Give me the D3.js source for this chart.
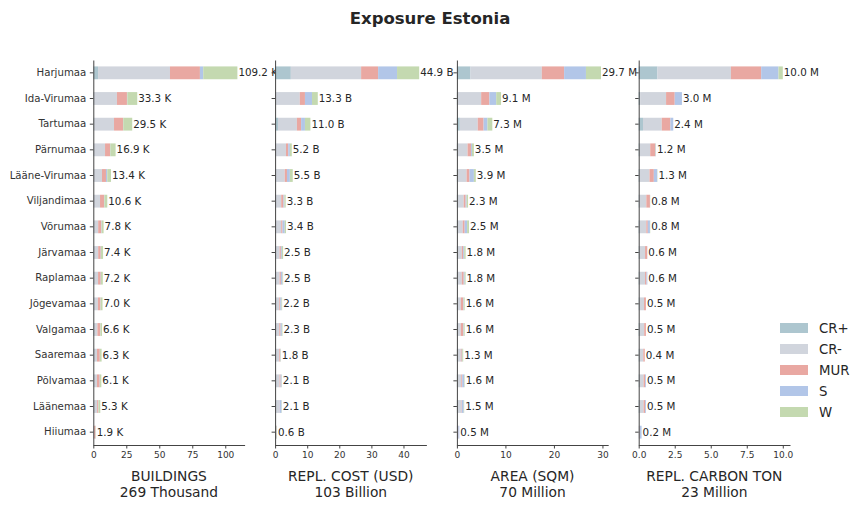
<!doctype html>
<html lang="en">
<head>
<meta charset="UTF-8">
<title>Exposure Estonia</title>
<style>
  body { margin: 0; background: #fff; }
  svg text { font-family: "DejaVu Sans", sans-serif; fill: #262626; }
  .axis path, .axis line { stroke: #444; stroke-width: 1; }
  .axis text { fill: #333; }
</style>
</head>
<body>
<svg id="chart" width="866" height="510"></svg>
<script src="https://cdn.jsdelivr.net/npm/d3@7"></script>
<script>
const regions = ["Harjumaa", "Ida-Virumaa", "Tartumaa", "Pärnumaa", "Lääne-Virumaa", "Viljandimaa",
  "Võrumaa", "Järvamaa", "Raplamaa", "Jõgevamaa", "Valgamaa", "Saaremaa", "Põlvamaa", "Läänemaa", "Hiiumaa"];
const series = ["CR+", "CR-", "MUR", "S", "W"];
const colors = ["#adc6cf", "#d1d5dd", "#e9a8a2", "#b2c6e8", "#c4d9b0"];

// rows follow regions, columns follow series
const buildings = [
  [3.6, 54.5, 22.7, 2.5, 25.9],
  [0.2, 17.7, 7.6, 0.3, 7.5],
  [0.3, 15.4, 6.8, 0.2, 6.8],
  [0.2, 8.7, 3.8, 0.2, 4.0],
  [0.1, 6.5, 3.0, 1.0, 2.8],
  [0.1, 5.0, 3.0, 0.3, 2.2],
  [0.1, 3.6, 2.3, 0.3, 1.5],
  [0.1, 3.6, 1.9, 0.2, 1.6],
  [0.1, 3.5, 2.0, 0.2, 1.4],
  [0.1, 3.4, 1.9, 0.2, 1.4],
  [0.1, 3.0, 2.1, 0.2, 1.2],
  [0.1, 2.7, 2.1, 0.1, 1.3],
  [0.1, 2.7, 2.0, 0.2, 1.1],
  [0.1, 2.8, 0.8, 0.2, 1.4],
  [0.0, 0.6, 1.0, 0.1, 0.2]
];
const replCost = [
  [4.9, 21.9, 5.3, 5.9, 6.9],
  [0.1, 7.6, 1.6, 2.2, 1.8],
  [0.9, 5.9, 1.3, 1.2, 1.7],
  [0.1, 3.3, 0.7, 0.5, 0.6],
  [0.1, 2.9, 0.7, 0.9, 0.9],
  [0.1, 1.8, 0.7, 0.3, 0.4],
  [0.1, 1.8, 0.4, 0.7, 0.4],
  [0.1, 1.3, 0.4, 0.3, 0.4],
  [0.1, 1.3, 0.4, 0.5, 0.2],
  [0.1, 1.2, 0.3, 0.4, 0.2],
  [0.1, 1.2, 0.4, 0.4, 0.2],
  [0.1, 1.2, 0.3, 0.1, 0.1],
  [0.1, 1.3, 0.3, 0.3, 0.1],
  [0.1, 1.2, 0.1, 0.6, 0.1],
  [0.0, 0.3, 0.1, 0.1, 0.1]
];
const area = [
  [2.8, 14.7, 4.6, 4.5, 3.1],
  [0.1, 4.9, 1.7, 1.4, 1.0],
  [0.6, 3.7, 1.2, 0.8, 1.0],
  [0.1, 2.1, 0.7, 0.2, 0.4],
  [0.1, 1.9, 0.6, 0.9, 0.4],
  [0.1, 1.3, 0.4, 0.2, 0.3],
  [0.1, 1.1, 0.4, 0.5, 0.4],
  [0.1, 0.9, 0.3, 0.2, 0.3],
  [0.1, 0.9, 0.4, 0.2, 0.2],
  [0.1, 0.7, 0.5, 0.1, 0.2],
  [0.1, 0.7, 0.5, 0.1, 0.2],
  [0.1, 0.7, 0.2, 0.1, 0.2],
  [0.1, 0.8, 0.2, 0.4, 0.1],
  [0.1, 0.8, 0.1, 0.4, 0.1],
  [0.0, 0.2, 0.1, 0.2, 0.0]
];
const carbon = [
  [1.3, 5.1, 2.1, 1.2, 0.3],
  [0.1, 1.8, 0.6, 0.5, 0.0],
  [0.3, 1.3, 0.6, 0.2, 0.0],
  [0.05, 0.75, 0.35, 0.03, 0.02],
  [0.05, 0.7, 0.3, 0.23, 0.02],
  [0.03, 0.5, 0.25, 0.01, 0.01],
  [0.03, 0.5, 0.1, 0.15, 0.02],
  [0.02, 0.42, 0.15, 0.01, 0.0],
  [0.02, 0.42, 0.1, 0.06, 0.0],
  [0.02, 0.35, 0.13, 0.0, 0.0],
  [0.02, 0.36, 0.12, 0.0, 0.0],
  [0.02, 0.3, 0.1, 0.0, 0.0],
  [0.02, 0.32, 0.1, 0.06, 0.0],
  [0.02, 0.32, 0.1, 0.06, 0.0],
  [0.0, 0.05, 0.02, 0.13, 0.0]
];

const panelTitles = ["BUILDINGS", "REPL. COST (USD)", "AREA (SQM)", "REPL. CARBON TON"];
const unitNames = ["Thousand", "Billion", "Million", "Million"];
const unitSuffix = ["K", "B", "M", "M"];
const xTicks = [[0, 25, 50, 75, 100], [0, 10, 20, 30, 40], [0, 10, 20, 30], [0, 2.5, 5, 7.5, 10]];
const xTickFormat = ["d", "d", "d", ".1f"];

const panels = [buildings, replCost, area, carbon];

const svg = d3.select("#chart");
const plotTop = 60, plotBottom = 445, panelW = 151.3, panelStep = 181.8, left0 = 93.3;

svg.append("text")
  .attr("x", 430).attr("y", 24)
  .attr("text-anchor", "middle")
  .style("font-size", "16.5px").style("font-weight", "bold")
  .text("Exposure Estonia");

const y = d3.scaleBand().domain(regions).range([plotTop, plotBottom])
  .paddingInner(0.5).paddingOuter(0.25);

const stack = d3.stack().keys(d3.range(series.length));

panels.forEach((rows, p) => {
  const g = svg.append("g").attr("transform", `translate(${left0 + p * panelStep},0)`);
  const totals = rows.map(r => d3.sum(r));
  const x = d3.scaleLinear().domain([0, d3.max(totals) * 1.05]).range([0, panelW]);

  const layers = stack(rows);
  g.selectAll("g.layer").data(layers).join("g")
    .attr("class", "layer")
    .attr("fill", (d, i) => colors[i])
    .selectAll("rect").data(d => d).join("rect")
    .attr("x", d => x(d[0]))
    .attr("width", d => Math.max(0, x(d[1]) - x(d[0])))
    .attr("y", (d, i) => y(regions[i]))
    .attr("height", y.bandwidth());

  g.selectAll("text.val").data(totals).join("text")
    .attr("class", "val")
    .attr("x", d => x(d) + 1)
    .attr("y", (d, i) => y(regions[i]) + y.bandwidth() / 2)
    .attr("dy", "0.35em")
    .style("font-size", "10.3px")
    .text(d => d3.format(".1f")(d) + " " + unitSuffix[p]);

  const yAxis = d3.axisLeft(y).tickSize(3.5).tickSizeOuter(0).tickPadding(3.5);
  if (p > 0) yAxis.tickFormat("");
  g.append("g").attr("class", "axis")
    .call(yAxis)
    .call(a => a.selectAll("text").style("font-size", "10.2px"));

  g.append("g").attr("class", "axis")
    .attr("transform", `translate(0,${plotBottom})`)
    .call(d3.axisBottom(x).tickValues(xTicks[p]).tickFormat(d3.format(xTickFormat[p]))
      .tickSize(3.5).tickSizeOuter(0).tickPadding(3.5))
    .call(a => a.selectAll("text").style("font-size", "9px"));

  const grand = Math.round(d3.sum(totals));
  const t = g.append("text")
    .attr("x", panelW / 2).attr("y", 481)
    .attr("text-anchor", "middle")
    .style("font-size", "13.8px");
  t.append("tspan").attr("x", panelW / 2).text(panelTitles[p]);
  t.append("tspan").attr("x", panelW / 2).attr("dy", 15.5).text(grand + " " + unitNames[p]);
});

// legend
const legend = svg.append("g").attr("transform", "translate(780,328)");
series.forEach((s, i) => {
  const row = legend.append("g").attr("transform", `translate(0,${i * 21})`);
  row.append("rect").attr("x", 0).attr("y", -5).attr("width", 28).attr("height", 10).attr("fill", colors[i]);
  row.append("text").attr("x", 39).attr("y", 0).attr("dy", "0.35em")
    .style("font-size", "13.3px").text(s);
});
</script>
</body>
</html>
